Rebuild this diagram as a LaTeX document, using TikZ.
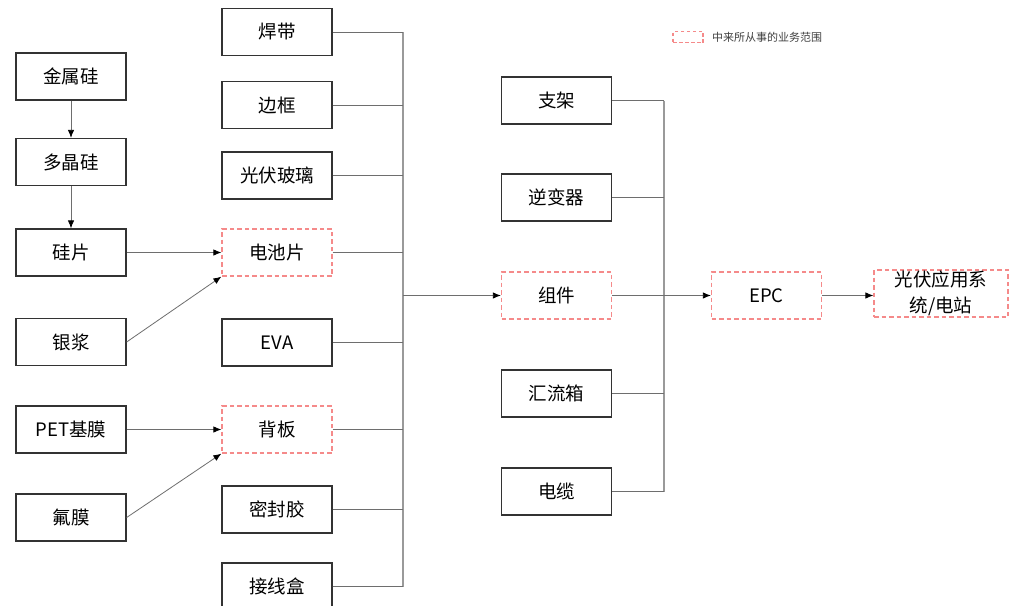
\documentclass[tikz,border=0pt]{standalone}
\usepackage{fontspec}
\setmainfont{Noto Sans CJK SC}
\usetikzlibrary{arrows.meta}
\definecolor{dashred}{HTML}{F58A8A}
\definecolor{linegray}{HTML}{6E6E6E}
\definecolor{busgray}{HTML}{9A9A9A}
\begin{document}
\begin{tikzpicture}[x=1pt,y=-1pt,
  box/.style={draw=black!80,line width=1.3pt,minimum width=110pt,minimum height=47pt,inner sep=0pt,font=\fontsize{18.5}{22}\selectfont},
  scope box/.style={box,draw=dashred,dashed,dash pattern=on 4.5pt off 3pt},
  conn/.style={draw=linegray,line width=0.8pt},
  arr/.style={conn,-{Latex[length=8pt,width=6.5pt,color=black]}},
  bus/.style={draw=busgray,line width=1.1pt}]
\useasboundingbox[fill=white] (0,0) rectangle (1014,605);
% left column
\node[box] (jss) at (71,76.5) {金属硅};
\node[box] (djg) at (71,162) {多晶硅};
\node[box] (gp)  at (71,252.5) {硅片};
\node[box] (yj)  at (71,342) {银浆};
\node[box] (pet) at (71,429.5) {PET基膜};
\node[box] (fm)  at (71,517.5) {氟膜};
% second column
\node[box] (hd)  at (277,32) {焊带};
\node[box] (bk)  at (277,105) {边框};
\node[box] (gfbl) at (277,175.5) {光伏玻璃};
\node[scope box] (dcp) at (277,252.5) {电池片};
\node[box] (eva) at (277,342.5) {EVA};
\node[scope box] (bb) at (277,429.5) {背板};
\node[box] (mfj) at (277,509.5) {密封胶};
\node[box] (jxh) at (277,586.5) {接线盒};
% third column
\node[box] (zj)  at (556.5,100.5) {支架};
\node[box] (nbq) at (556.5,197.5) {逆变器};
\node[scope box] (zjian) at (556.5,295.5) {组件};
\node[box] (hlx) at (556.5,393.5) {汇流箱};
\node[box] (dl)  at (556.5,491.5) {电缆};
% right
\node[scope box] (epc) at (766.5,295.5) {EPC};
\node[scope box,minimum width=134pt,align=center,font=\fontsize{18.5}{26}\selectfont] (gfyy) at (941,293.5) {光伏应用系\\统/电站};
% legend
\node[draw=dashred,dashed,dash pattern=on 3.5pt off 2.5pt,line width=1.2pt,minimum width=30pt,minimum height=11pt,inner sep=0pt] (lg) at (688,37) {};
\node[anchor=west,font=\fontsize{11}{13}\selectfont,text=black!75,inner sep=0pt] (lgt) at (712,37) {中来所从事的业务范围};
% bus coordinates
\coordinate (b1t) at (403,32);
\coordinate (b1b) at (403,586.5);
\coordinate (b1m) at (403,295.5);
\coordinate (b2t) at (664,100.5);
\coordinate (b2b) at (664,491.5);
% left arrows
\draw[arr] (jss) -- (djg);
\draw[arr] (djg) -- (gp);
\draw[arr] (gp) -- (dcp);
\draw[arr] (yj.east) -- (dcp.south west);
\draw[arr] (pet) -- (bb);
\draw[arr] (fm.east) -- (bb.south west);
% bus 1
\draw[bus] (b1t) -- (b1b);
\foreach \n in {hd,bk,gfbl,dcp,eva,bb,mfj,jxh}
  \draw[conn] (\n.east) -- (\n.east -| b1t);
\draw[arr] (b1m) -- (zjian);
% bus 2
\draw[bus] (b2t) -- (b2b);
\foreach \n in {zj,nbq,hlx,dl}
  \draw[conn] (\n.east) -- (\n.east -| b2t);
\draw[arr] (zjian) -- (epc);
\draw[arr] (epc) -- (gfyy.west |- epc);
\end{tikzpicture}
\end{document}
